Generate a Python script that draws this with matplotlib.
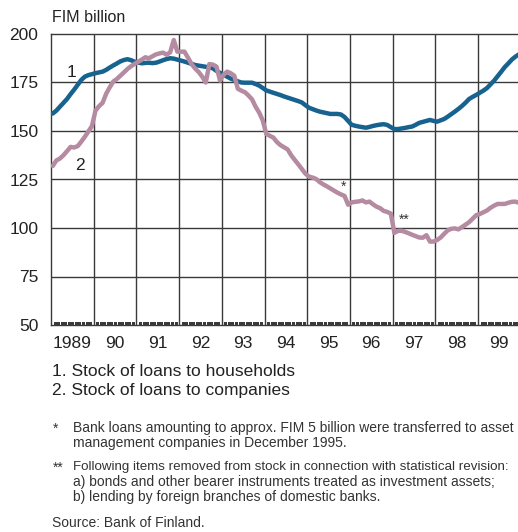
import matplotlib
matplotlib.use("Agg")
import matplotlib.pyplot as plt
from matplotlib.ticker import FixedLocator, NullLocator
import numpy as np

plt.rcParams['font.family'] = ['Liberation Sans', 'DejaVu Sans']

# Monthly data, Jan 1989 .. Dec 1999 (FIM billion)
households = [
    159, 160.5, 162.5, 164.5, 166.5, 169, 171.3, 173.8, 176.3, 178, 178.8, 179.3,
    179.8, 180.2, 180.6, 181.5, 182.7, 183.8, 184.8, 185.9, 186.6, 187, 186.5, 185.7,
    185.3, 184.9, 185.1, 185.2, 185, 185.2, 185.8, 186.5, 187.1, 187.5, 187.3, 186.8,
    186.3, 185.8, 185.2, 184.6, 184, 183.7, 183.4, 183.1, 182.8, 182.3, 181, 180,
    179, 178, 177, 176.3, 175.6, 175, 174.9, 174.9, 174.9, 174.2, 173.4, 172.2,
    170.9, 170.3, 169.7, 169.1, 168.5, 167.8, 167.2, 166.6, 166, 165.4, 164.7, 163.3,
    162, 161.3, 160.6, 160, 159.6, 159.2, 158.8, 158.8, 158.8, 158.5, 157.2, 155.2,
    153.2, 152.7, 152.3, 152, 151.7, 152.1, 152.6, 153, 153.3, 153.5, 153.1, 152,
    151, 151, 151.3, 151.6, 152, 152.3, 153.2, 154.2, 154.7, 155.2, 155.7, 155.2,
    154.8, 155.5, 156.2, 157.4, 158.7, 160, 161.4, 162.9, 164.6, 166.5, 167.6, 168.6,
    169.7, 170.8, 172.1, 174, 175.9, 178.2, 180.5, 182.9, 184.8, 186.8, 188.3, 189.5,
]
companies = [
    132, 134.8, 135.8, 137.5, 139.6, 141.8, 141.5, 142.2, 144.5, 147, 149.8, 152.5,
    160.5, 162.8, 164.5, 169.2, 172.5, 175.5, 176.8, 178.5, 180.2, 182, 183.4, 184.6,
    185.7, 186.8, 188, 187.5, 188.5, 189.5, 190, 190.4, 189.3, 190.6, 196.9, 190.9,
    190.9, 190.9, 187.8, 184.5, 182.2, 180.4, 178, 175, 184.5, 184.2, 183.2, 176,
    179, 180.6, 179.8, 178.5, 171.8, 170.8, 170, 168.3, 166.3, 162.5, 159.5, 155.5,
    148.5, 147.5, 146.6, 144.3, 142.7, 141.6, 140.5, 137.5, 135.1, 132.8, 130.4, 128,
    126.5, 126, 125.3, 123.7, 122.5, 121.5, 120.4, 119.3, 118.2, 117.3, 116.5, 112,
    113.2, 113.5, 113.7, 114.2, 113.2, 113.6, 112.2, 111, 110.2, 108.8, 108.3, 107.4,
    97.5, 98.5, 98.6, 98, 97.3, 96.5, 95.8, 95.1, 95, 96.3, 93, 93,
    93.8, 95.1, 97, 98.8, 99.6, 99.8, 99.3, 100.5, 101.7, 103, 104.8, 106.6,
    107.2, 108.1, 109, 110.4, 111.5, 112.4, 112.4, 112.4, 113, 113.5, 113.6, 113,
]
start_year = 1989
year_labels = ["1989", "90", "91", "92", "93", "94", "95", "96", "97", "98", "99"]
y_ticks = [50, 75, 100, 125, 150, 175, 200]
legend_lines = ["1. Stock of loans to households", "2. Stock of loans to companies"]

BLUE = "#17628f"
MAUVE = "#b48ba1"
GRID = "#3a3a3a"

W, H = 518, 532
fig = plt.figure(figsize=(W / 100, H / 100), dpi=100)
ax = fig.add_axes([51 / W, 1 - 325 / H, (520.7 - 51) / W, (325 - 34) / H])

n = len(households)
t = start_year + (np.arange(n) + 0.5) / 12.0

ax.plot(t, households, color=BLUE, lw=3.2, solid_capstyle='round', solid_joinstyle='round', zorder=3)
ax.plot(t, companies, color=MAUVE, lw=3.2, solid_capstyle='round', solid_joinstyle='round', zorder=3)

x0, x1 = start_year, start_year + len(year_labels)
ax.set_xlim(x0, x1)
ax.set_ylim(50, 200)

# grid
for yv in y_ticks[1:-1]:
    ax.axhline(yv, color=GRID, lw=1.0, zorder=1)
for yr in range(x0 + 1, x1):
    ax.axvline(yr, color=GRID, lw=1.0, zorder=1)

# monthly tick marks along the bottom (inside)
month_locs = [x0 + k / 12.0 for k in range(1, 12 * (x1 - x0)) if k % 12 != 0]
ax.vlines(month_locs, 0, 0.011, transform=ax.get_xaxis_transform(),
          color=GRID, lw=0.75, antialiased=False, zorder=2)

for s in ['left', 'top', 'bottom']:
    ax.spines[s].set_color(GRID)
    ax.spines[s].set_linewidth(1.0)
ax.spines['right'].set_visible(False)

ax.set_yticks(y_ticks)
ax.set_yticklabels([str(v) for v in y_ticks])
ax.tick_params(axis='y', length=0, pad=9, labelsize=12.5, colors='#222222')

ax.xaxis.set_major_locator(FixedLocator([x0 + i + 0.5 for i in range(x1 - x0)]))
ax.set_xticklabels(year_labels)
ax.xaxis.set_minor_locator(NullLocator())
ax.tick_params(axis='x', which='major', length=0, pad=8, labelsize=12.5, labelcolor='#222222')

# series labels
ax.text(start_year + 0.47, 180, "1", fontsize=12.5, ha='center', va='center', color='#222222')
ax.text(start_year + 0.68, 132, "2", fontsize=12.5, ha='center', va='center', color='#222222')
ax.text(1995.86, 121, "*", fontsize=10, ha='center', va='center', color='#333333')
ax.text(1997.27, 104, "**", fontsize=10, ha='center', va='center', color='#333333')

fig.text(52 / W, 1 - 18 / H, "FIM billion", fontsize=11.5, ha='left', va='center', color='#222222')

fig.text(52 / W, 1 - 371 / H, legend_lines[0], fontsize=12.5, ha='left', va='center', color='#222222')
fig.text(52 / W, 1 - 391 / H, legend_lines[1], fontsize=12.5, ha='left', va='center', color='#222222')

fs = 10
col = '#333333'
fig.text(53 / W, 1 - 429 / H, "*", fontsize=fs, ha='left', va='center', color=col)
fig.text(73 / W, 1 - 428 / H, "Bank loans amounting to approx. FIM 5 billion were transferred to asset",
         fontsize=fs, ha='left', va='center', color=col)
fig.text(73 / W, 1 - 443 / H, "management companies in December 1995.",
         fontsize=fs, ha='left', va='center', color=col)
fig.text(53 / W, 1 - 468 / H, "**", fontsize=fs, ha='left', va='center', color=col)
fig.text(73 / W, 1 - 467 / H, "Following items removed from stock in connection with statistical revision:",
         fontsize=9.6, ha='left', va='center', color=col)
fig.text(73 / W, 1 - 482 / H, "a) bonds and other bearer instruments treated as investment assets;",
         fontsize=fs, ha='left', va='center', color=col)
fig.text(73 / W, 1 - 497 / H, "b) lending by foreign branches of domestic banks.",
         fontsize=fs, ha='left', va='center', color=col)
fig.text(52 / W, 1 - 523 / H, "Source: Bank of Finland.", fontsize=fs, ha='left', va='center', color=col)

fig.savefig("out.png", dpi=100)
